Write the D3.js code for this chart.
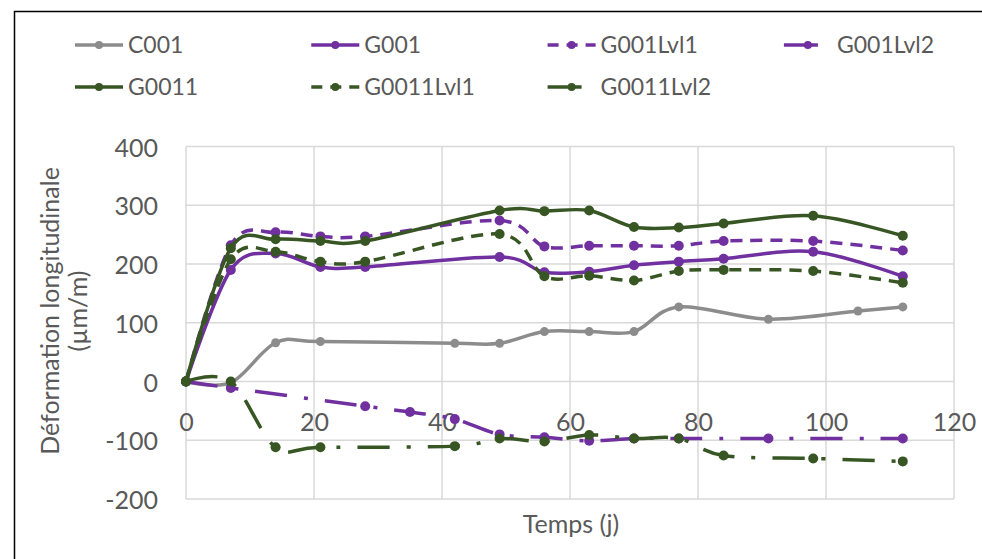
<!DOCTYPE html>
<html>
<head>
<meta charset="utf-8">
<script src="https://cdn.jsdelivr.net/npm/d3@7"></script>
<style>
  body { margin: 0; background: #fff; }
  svg { display: block; font-family: Lato, "Open Sans", sans-serif; }
</style>
</head>
<body>
<div id="chart"></div>
<script>
const C001 = [[0, 0], [7, -2], [14, 66], [21, 68], [42, 65], [49, 65], [56, 85], [63, 85], [70, 85], [77, 127], [91, 106], [105, 120], [112, 127]];
const G001 = [[0, 0], [7, 190], [14, 218], [21, 195], [28, 195], [49, 212], [56, 186], [63, 187], [70, 198], [77, 204], [84, 209], [98, 221], [112, 179]];
const G001Lvl1 = [[0, 0], [7, 232], [14, 254], [21, 247], [28, 247], [49, 274], [56, 230], [63, 231], [70, 231], [77, 231], [84, 239], [98, 239], [112, 223]];
const G001Lvl2 = [[0, 0], [7, -11], [28, -42], [35, -52], [42, -64], [49, -90], [56, -95], [63, -101], [70, -97], [77, -97], [91, -97], [112, -97]];
const G0011 = [[0, 0], [7, 227], [14, 242], [21, 239], [28, 239], [49, 291], [56, 290], [63, 291], [70, 263], [77, 262], [84, 269], [98, 282], [112, 248]];
const G0011Lvl1 = [[0, 0], [7, 208], [14, 221], [21, 204], [28, 204], [49, 251], [56, 179], [63, 180], [70, 172], [77, 188], [84, 190], [98, 188], [112, 168]];
const G0011Lvl2 = [[0, 0], [7, 0], [14, -112], [21, -112], [42, -110], [49, -97], [56, -102], [63, -91], [70, -97], [77, -97], [84, -126], [98, -131], [112, -136]];

const xTicks = [0, 20, 40, 60, 80, 100, 120];
const yTicks = [-200, -100, 0, 100, 200, 300, 400];

const purple = "#7030a0";
const green = "#375623";
const grey = "#8c8c8c";
const dashed = "12,8";
const dashDot = "32,17,4,17";

const series = [
  { name: "C001", values: C001, color: grey, dash: null, r: 4.5 },
  { name: "G001", values: G001, color: purple, dash: null, r: 5 },
  { name: "G001Lvl1", values: G001Lvl1, color: purple, dash: dashed, r: 5 },
  { name: "G001Lvl2", values: G001Lvl2, color: purple, dash: dashDot, r: 5 },
  { name: "G0011", values: G0011, color: green, dash: null, r: 5 },
  { name: "G0011Lvl1", values: G0011Lvl1, color: green, dash: dashed, r: 5 },
  { name: "G0011Lvl2", values: G0011Lvl2, color: green, dash: dashDot, r: 5 },
];

const width = 982;
const height = 559;
const textColor = "#595959";
const gridColor = "#d9d9d9";

const svg = d3.select("#chart").append("svg")
  .attr("width", width)
  .attr("height", height)
  .attr("viewBox", [0, 0, width, height]);

svg.append("rect").attr("width", width).attr("height", height).attr("fill", "#fff");

// frame of the chart object
svg.append("path")
  .attr("d", `M14.5,${height}V11.5H${width}`)
  .attr("fill", "none")
  .attr("stroke", "#000")
  .attr("stroke-width", 1.5);

const x = d3.scaleLinear().domain([0, 120]).range([186, 954]);
const y = d3.scaleLinear().domain([-200, 400]).range([499, 146.5]);

// gridlines
const grid = svg.append("g").attr("stroke", gridColor).attr("stroke-width", 1.5);
grid.selectAll(".h").data(yTicks).join("line")
  .attr("x1", x(0)).attr("x2", x(120))
  .attr("y1", (d) => y(d)).attr("y2", (d) => y(d));
grid.selectAll(".v").data(xTicks).join("line")
  .attr("y1", y(400)).attr("y2", y(-200))
  .attr("x1", (d) => x(d)).attr("x2", (d) => x(d));

// axes (plain hyphen for negatives, like Excel)
const yAxis = svg.append("g")
  .attr("transform", `translate(${x(0)},0)`)
  .call(d3.axisLeft(y).tickValues(yTicks).tickFormat((d) => String(d)).tickSize(0).tickPadding(28));
yAxis.select(".domain").remove();
yAxis.selectAll("text")
  .attr("dy", "0.38em")
  .attr("fill", textColor)
  .attr("font-size", 25)
  .attr("font-family", "Lato, sans-serif");

const xAxis = svg.append("g")
  .attr("transform", `translate(0,${y(0)})`)
  .call(d3.axisBottom(x).tickValues(xTicks).tickFormat((d) => String(d)).tickSize(0).tickPadding(32));
xAxis.select(".domain").remove();
xAxis.selectAll("text")
  .attr("fill", textColor)
  .attr("font-size", 25)
  .attr("font-family", "Lato, sans-serif");

// axis titles
svg.append("text")
  .attr("x", 571).attr("y", 533)
  .attr("text-anchor", "middle")
  .attr("fill", textColor)
  .attr("font-size", 25)
  .text("Temps (j)");

const yTitle = svg.append("text")
  .attr("transform", "translate(0,311) rotate(-90)")
  .attr("text-anchor", "middle")
  .attr("fill", textColor)
  .attr("font-size", 25);
yTitle.append("tspan").attr("x", 0).attr("y", 59).text("Déformation longitudinale");
yTitle.append("tspan").attr("x", 0).attr("y", 87).text("(µm/m)");

// lines
const line = d3.line()
  .x((d) => x(d[0]))
  .y((d) => y(d[1]))
  .curve(d3.curveCatmullRom.alpha(0));

const g = svg.selectAll(".series").data(series).join("g");

g.append("path")
  .attr("d", (d) => line(d.values))
  .attr("fill", "none")
  .attr("stroke", (d) => d.color)
  .attr("stroke-width", 3.5)
  .attr("stroke-dasharray", (d) => d.dash);

g.selectAll("circle")
  .data((d) => d.values.map((v) => ({ v, s: d })))
  .join("circle")
  .attr("cx", (d) => x(d.v[0]))
  .attr("cy", (d) => y(d.v[1]))
  .attr("r", (d) => d.s.r)
  .attr("fill", (d) => d.s.color);

// legend: 4 columns, 2 rows
const legend = svg.append("g")
  .selectAll("g")
  .data(series)
  .join("g")
  .attr("transform", (d, i) => `translate(${75 + (i % 4) * 236.3},${i < 4 ? 45 : 87})`);

legend.append("line")
  .attr("x1", 0).attr("x2", (d) => (d.dash === dashDot ? 34 : 48))
  .attr("stroke", (d) => d.color)
  .attr("stroke-width", 3.5)
  .attr("stroke-dasharray", (d) => (d.dash === dashed ? "11,8" : null));

legend.append("circle")
  .attr("cx", 24)
  .attr("r", 4)
  .attr("fill", (d) => d.color);

legend.append("text")
  .attr("x", 53)
  .attr("y", 8)
  .attr("fill", textColor)
  .attr("font-size", 23)
  .text((d) => d.name);
</script>
</body>
</html>
